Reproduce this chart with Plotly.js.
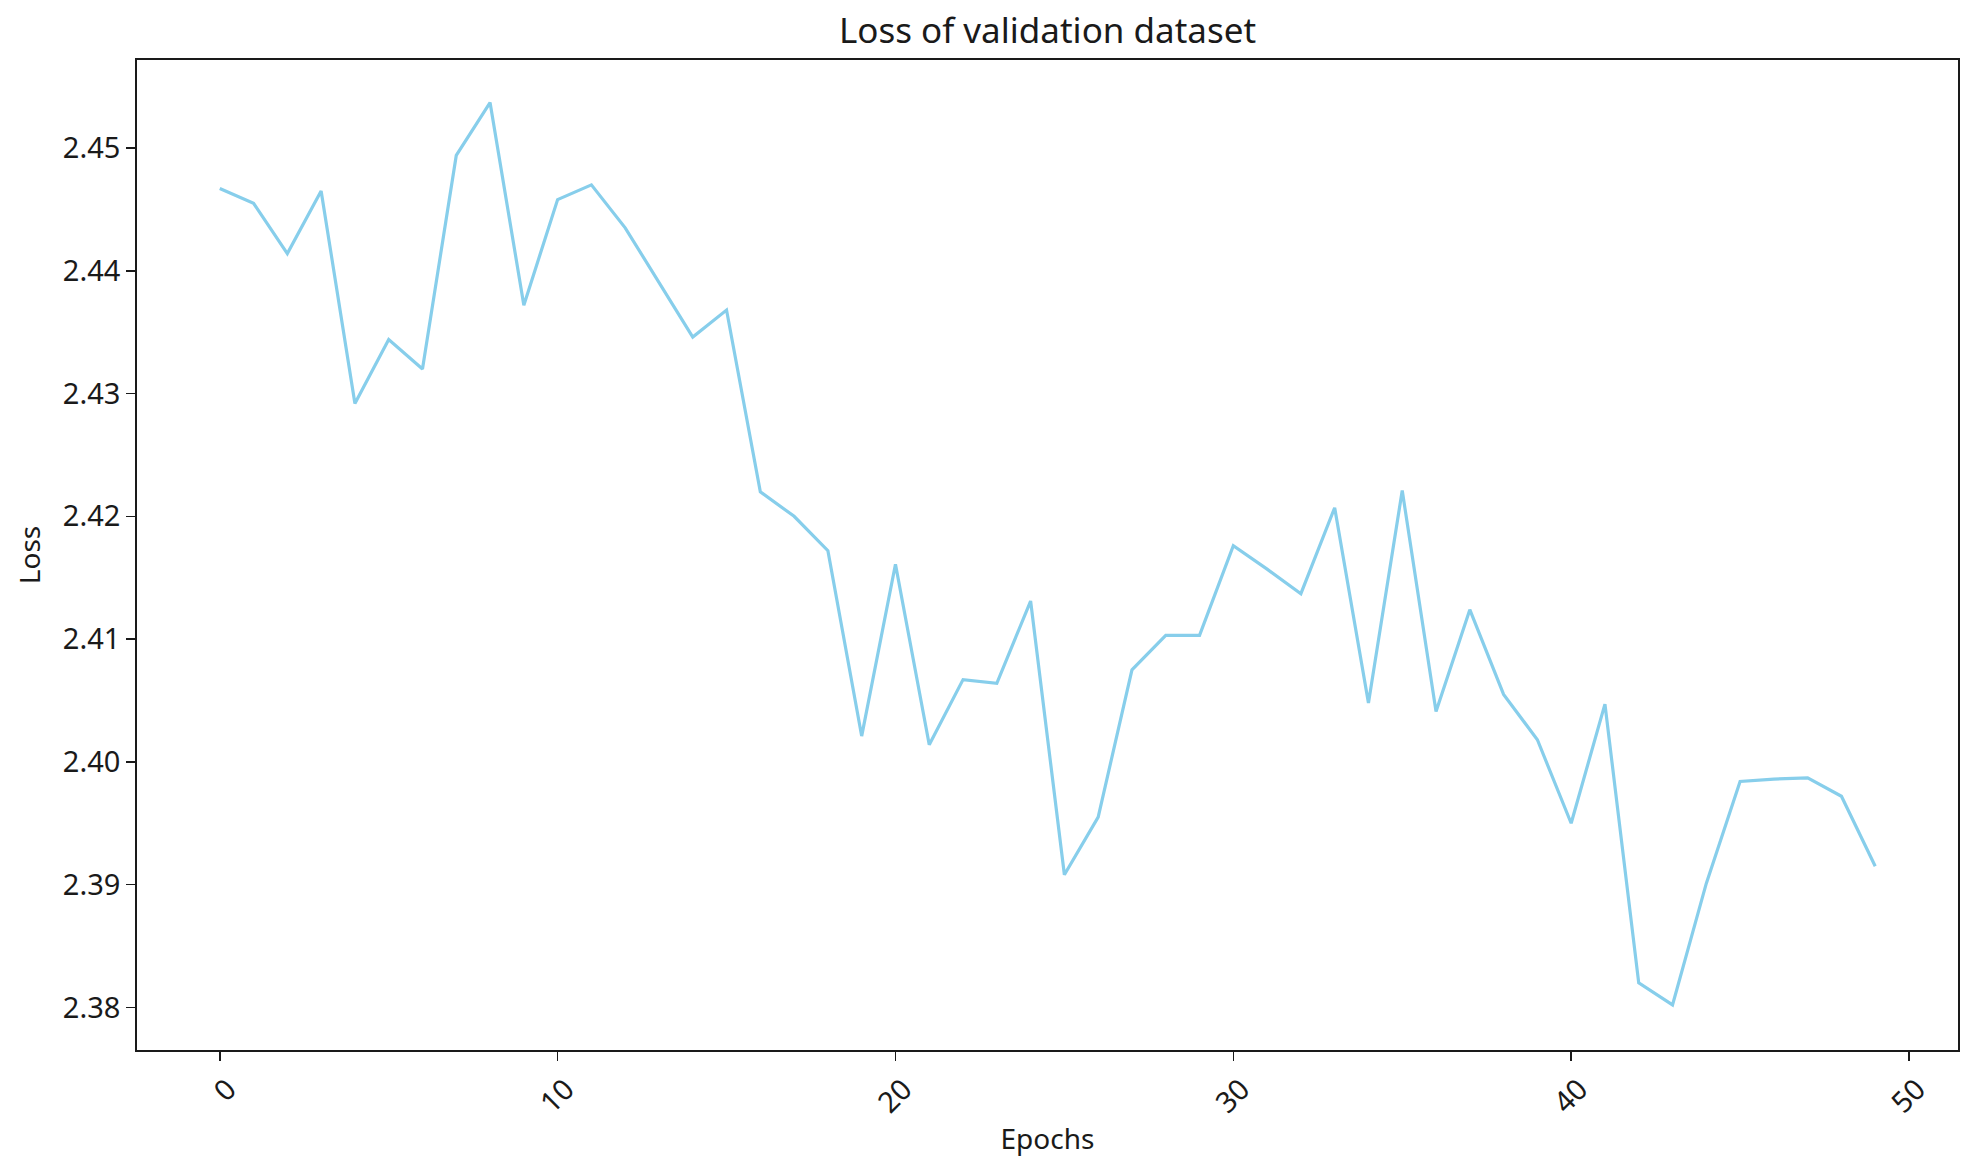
<!DOCTYPE html>
<html>
<head>
<meta charset="utf-8">
<script src="https://cdn.plot.ly/plotly-3.0.1.min.js"></script>
<style>html,body{margin:0;padding:0;background:#fff;}#chart{width:1968px;height:1176px;}</style>
</head>
<body>
<div id="chart"></div>
<script>
// Epoch indices
const epochs = [0,1,2,3,4,5,6,7,8,9,10,11,12,13,14,15,16,17,18,19,20,21,22,23,24,25,26,27,28,29,30,31,32,33,34,35,36,37,38,39,40,41,42,43,44,45,46,47,48,49];
// Validation loss per epoch
const valLoss = [
  2.4467, 2.4455, 2.4414, 2.4465, 2.4292, 2.4344, 2.4320, 2.4494, 2.4537, 2.4372,
  2.4458, 2.4470, 2.4435, 2.4391, 2.4346, 2.4368, 2.4220, 2.4200, 2.4172, 2.4021,
  2.4161, 2.4014, 2.4067, 2.4064, 2.4131, 2.3908, 2.3955, 2.4075, 2.4103, 2.4103,
  2.4176, 2.4157, 2.4137, 2.4207, 2.4048, 2.4221, 2.4041, 2.4124, 2.4055, 2.4018,
  2.3950, 2.4047, 2.3820, 2.3802, 2.3901, 2.3984, 2.3986, 2.3987, 2.3972, 2.3915
];
const xTicks = [0,10,20,30,40,50];
const yTicks = [2.38,2.39,2.40,2.41,2.42,2.43,2.44,2.45];
const yTickText = ['2.38','2.39','2.40','2.41','2.42','2.43','2.44','2.45'];

const FONT = '"Noto Sans", "Open Sans", sans-serif';
const INK = '#1a1a1a';

const trace = {
  x: epochs,
  y: valLoss,
  type: 'scatter',
  mode: 'lines',
  line: {color: '#87CEEB', width: 3.2},
  hoverinfo: 'x+y'
};

const layout = {
  width: 1968,
  height: 1176,
  paper_bgcolor: '#ffffff',
  plot_bgcolor: '#ffffff',
  margin: {l: 137, r: 10, t: 60, b: 126, pad: 0},
  showlegend: false,
  font: {family: FONT, color: INK, size: 28},
  title: {
    text: 'Loss of validation dataset',
    font: {family: FONT, size: 35, color: INK},
    xref: 'paper', x: 0.5, xanchor: 'center',
    yref: 'container', y: 1 - 31/1176, yanchor: 'middle'
  },
  xaxis: {
    range: [-2.45, 51.45],
    tickmode: 'array',
    tickvals: xTicks,
    ticktext: xTicks.map(String),
    tickangle: -45,
    ticklabelshift: 8,
    ticks: 'outside',
    ticklen: 9,
    tickwidth: 1.6,
    tickcolor: INK,
    tickfont: {family: FONT, size: 29, color: INK},
    showgrid: false,
    zeroline: false,
    showline: true,
    linecolor: INK,
    linewidth: 1.8,
    mirror: true,
    title: {text: 'Epochs', font: {family: FONT, size: 28, color: INK}, standoff: 10},
    automargin: false
  },
  yaxis: {
    range: [2.37653, 2.45717],
    tickmode: 'array',
    tickvals: yTicks,
    ticktext: yTickText,
    ticks: 'outside',
    ticklen: 9,
    tickwidth: 1.6,
    tickcolor: INK,
    tickfont: {family: FONT, size: 29, color: INK},
    showgrid: false,
    zeroline: false,
    showline: true,
    linecolor: INK,
    linewidth: 1.8,
    mirror: true,
    title: {text: 'Loss', font: {family: FONT, size: 28, color: INK}, standoff: 14},
    automargin: false
  }
};

Plotly.newPlot('chart', [trace], layout, {displayModeBar: false, staticPlot: true});
</script>
</body>
</html>
